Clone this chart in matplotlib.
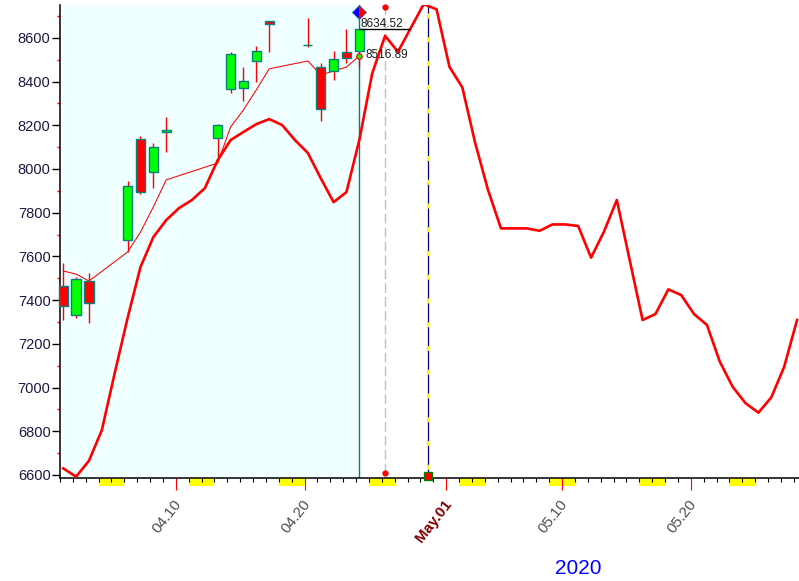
import matplotlib
matplotlib.use('Agg')
import matplotlib.pyplot as plt
import numpy as np
import pandas as pd

plt.rcParams['font.family'] = ['Liberation Sans', 'DejaVu Sans']

# daily curve, 2020-04-01 .. 2020-05-28
line_dates = pd.date_range('2020-04-01', '2020-05-28', freq='D')
line_vals = [6630, 6592, 6665, 6805, 7066, 7318, 7551, 7688, 7766, 7821,
             7858, 7912, 8040, 8132, 8169, 8205, 8228, 8201, 8132, 8073,
             7958, 7848, 7894, 8132, 8437, 8609, 8536, 8645, 8754, 8730,
             8467, 8373, 8118, 7903, 7728, 7728, 7728, 7717, 7746, 7746,
             7739, 7594, 7713, 7858, 7583, 7309, 7336, 7449, 7423, 7336,
             7286, 7118, 7003, 6928, 6885, 6955, 7095, 7309]

# candles (trading days)
candle_dates = pd.to_datetime(['2020-04-01', '2020-04-02', '2020-04-03', '2020-04-06',
                               '2020-04-07', '2020-04-08', '2020-04-09', '2020-04-13',
                               '2020-04-14', '2020-04-15', '2020-04-16', '2020-04-17',
                               '2020-04-20', '2020-04-21', '2020-04-22', '2020-04-23',
                               '2020-04-24'])
opens = [7466, 7332, 7487, 7675, 8135, 7987, 8167, 8141, 8364, 8369, 8492, 8675, 8567, 8467, 8446, 8533, 8541]
highs = [7568, 7507, 7525, 7944, 8150, 8117, 8236, 8205, 8536, 8467, 8562, 8675, 8691, 8483, 8541, 8640, 8640]
lows = [7309, 7316, 7296, 7621, 7885, 7911, 8078, 8041, 8346, 8312, 8399, 8536, 8559, 8220, 8407, 8483, 8467]
closes = [7373, 7495, 7385, 7922, 7896, 8099, 8178, 8199, 8524, 8402, 8538, 8663, 8567, 8272, 8501, 8506, 8640]
ma_vals = [7533, 7519, 7487, 7620, 7711, 7826, 7950, 8027, 8192, 8270, 8362, 8458, 8494, 8430, 8448, 8466, 8517]

start = pd.Timestamp('2020-04-01')


def dnum(dates):
    return np.array([(d - start).days + 1 for d in dates], dtype=float)


xl = dnum(line_dates)
xc = dnum(candle_dates)

major_dates = pd.to_datetime(['2020-04-10', '2020-04-20', '2020-05-01', '2020-05-10', '2020-05-20'])
major_labels = ['04.10', '04.20', 'May.01', '05.10', '05.20']
weekend_sats = pd.to_datetime(['2020-04-04', '2020-04-11', '2020-04-18', '2020-04-25',
                               '2020-05-02', '2020-05-09', '2020-05-16', '2020-05-23'])

fig = plt.figure(figsize=(7.99, 5.81), dpi=100)
ax = fig.add_axes([60 / 799, 1 - 478 / 581, 739 / 799, 473 / 581])
ax.set_xlim(0.92, 58.15)
ax.set_ylim(6586, 8750)

# history background
ax.axvspan(0.92, 24, color='#f0ffff', lw=0, zorder=0)
ax.axvline(24, color='#008080', lw=1, zorder=1)

# curves
ax.plot(xl, line_vals, color='red', lw=1.9, zorder=4)
ax.plot(xc, ma_vals, color='red', lw=0.75, zorder=4)

# candles
o = np.array(opens)
c = np.array(closes)
ax.vlines(xc, lows, highs, color='red', lw=1, zorder=5)
cols = ['#00ff00' if cc >= oo else '#ff0000' for oo, cc in zip(o, c)]
ax.bar(xc, np.abs(c - o), bottom=np.minimum(o, c), width=0.72, color=cols,
       edgecolor='#008080', linewidth=1, zorder=6, clip_on=False)

# markers / annotations
ax.hlines(8640, 24, 27.9, color='black', lw=1, zorder=7)
ax.text(24.08, 8651, '8634.52', fontsize=8.5, color='#1a1a1a', va='baseline', ha='left', zorder=8)
ax.text(24.45, 8520, '8516.89', fontsize=8.5, color='#1a1a1a', va='center', ha='left', zorder=8)
ax.plot(24, 8517, 'o', ms=4, mfc='#00ff00', mec='red', mew=0.8, zorder=8)
ax.plot(24, 8719, marker='D', ms=7, mfc='blue', markerfacecoloralt='red',
        fillstyle='left', mec='#2060a0', mew=0.5, zorder=8, clip_on=False)

ax.vlines(26, 6610, 8739, color='#c0c0c0', lw=1, linestyles=(0, (7, 3)), zorder=2)
ax.plot([26, 26], [8739, 6610], 'o', color='red', ms=3.5, zorder=8, clip_on=False)

ax.axvline(29.3, color='#000080', lw=0.9, zorder=3)
ax.axvline(29.3, color='#ffff00', lw=0.9, linestyle=(12, (4, 15)), zorder=3)
ax.plot(29.3, 6593, 's', ms=6, mfc='red', mec='green', mew=1, zorder=8, clip_on=False)

# weekend blocks under the axis
for s in dnum(weekend_sats):
    ax.add_patch(plt.Rectangle((s - 0.25, -0.0159), 2, 0.0155, transform=ax.get_xaxis_transform(),
                               facecolor='#ffff00', edgecolor='none', clip_on=False, zorder=1))

# spines
for side in ['top', 'right']:
    ax.spines[side].set_visible(False)
ax.spines['left'].set_linewidth(1.1)
ax.spines['bottom'].set_linewidth(1.1)

# y ticks
ax.set_yticks(np.arange(6600, 8601, 200))
ax.set_yticks(np.arange(6700, 8701, 200), minor=True)
ax.tick_params(axis='y', which='major', length=5.8, width=1, color='black',
               labelsize=10.5, labelcolor='#1a1a40', pad=1)
ax.tick_params(axis='y', which='minor', length=2.3, width=1, color='red')

# x ticks
xmaj = dnum(major_dates) - 0.25
ax.set_xticks(xmaj, labels=[''] * len(xmaj))
ax.set_xticks(np.arange(1, 59) - 0.25, minor=True)
ax.tick_params(axis='x', which='major', length=8.6, width=0.8, color='red')
ax.tick_params(axis='x', which='minor', length=3.2, width=0.8, color='black')

for xp, lab in zip(xmaj, major_labels):
    if lab.startswith('May'):
        kw = dict(color='#800000', fontweight='bold', fontsize=11)
    else:
        kw = dict(color='#505050', fontsize=11)
    ax.annotate(lab, xy=(xp, 0), xycoords=('data', 'axes fraction'),
                xytext=(6, -13.5), textcoords='offset points',
                rotation=52, ha='right', va='top', **kw)

fig.text(578 / 799, 1 - 569 / 581, '2020', ha='center', va='center', color='blue', fontsize=15)

fig.savefig('out.png', dpi=100)
